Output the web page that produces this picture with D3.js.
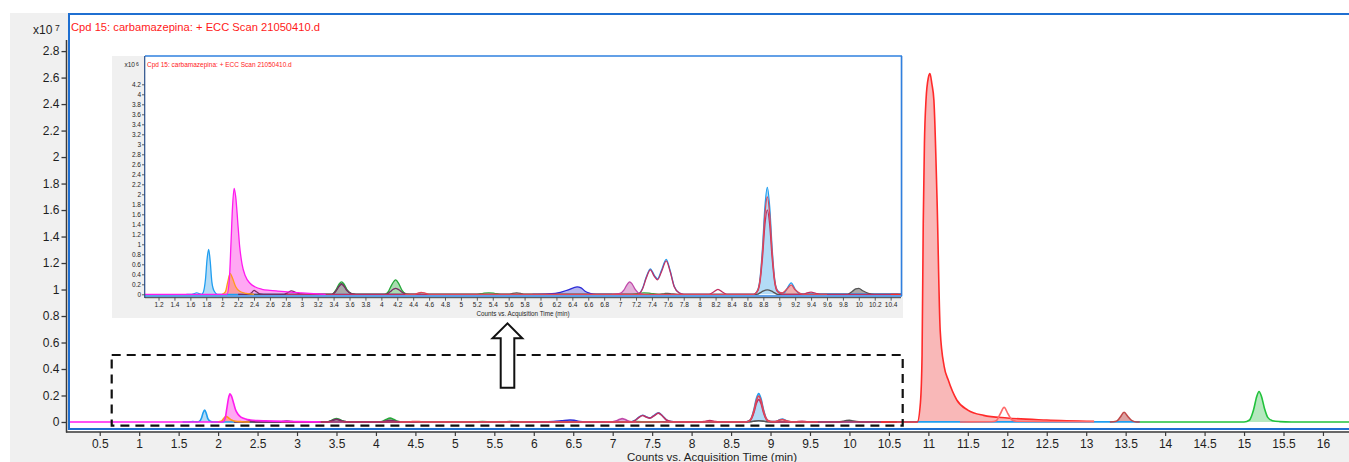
<!DOCTYPE html>
<html>
<head>
<meta charset="utf-8">
<script src="https://cdn.jsdelivr.net/npm/d3@7"></script>
<style>
  html, body { margin: 0; padding: 0; background: #fff; }
  svg { display: block; font-family: "Liberation Sans", Arial, sans-serif; }
</style>
</head>
<body>
<svg id="chart" width="1349" height="462"></svg>
<script>
// ---- Axis ticks ----
const mainXTicks = [0.5, 1, 1.5, 2, 2.5, 3, 3.5, 4, 4.5, 5, 5.5, 6, 6.5, 7, 7.5, 8, 8.5, 9, 9.5, 10, 10.5, 11, 11.5, 12, 12.5, 13, 13.5, 14, 14.5, 15, 15.5, 16];
const mainYTicks = [0, 0.2, 0.4, 0.6, 0.8, 1, 1.2, 1.4, 1.6, 1.8, 2, 2.2, 2.4, 2.6, 2.8];           // x10^7 counts
const insetXTicks = [1.2, 1.4, 1.6, 1.8, 2, 2.2, 2.4, 2.6, 2.8, 3, 3.2, 3.4, 3.6, 3.8, 4, 4.2, 4.4, 4.6, 4.8, 5,
  5.2, 5.4, 5.6, 5.8, 6, 6.2, 6.4, 6.6, 6.8, 7, 7.2, 7.4, 7.6, 7.8, 8, 8.2, 8.4, 8.6, 8.8, 9, 9.2, 9.4, 9.6, 9.8, 10, 10.2, 10.4];
const insetYTicks = [0, 0.2, 0.4, 0.6, 0.8, 1, 1.2, 1.4, 1.6, 1.8, 2, 2.2, 2.4, 2.6, 2.8, 3, 3.2, 3.4, 3.6, 3.8, 4, 4.2]; // x10^6 counts

const titleText = "Cpd 15: carbamazepina: + ECC Scan 21050410.d";
const axisTitle = "Counts vs. Acquisition Time (min)";

// ---- Chromatogram traces: [retention time (min), counts x10^6] ----
const skyTrace = [[1.55,0],[1.62,0],[1.65,0.015],[1.68,0.03],[1.71,0.015],[1.74,0],[1.76,0.03],[1.79,0.3],[1.81,0.7],[1.83,0.9],[1.85,0.65],[1.87,0.25],[1.9,0.06],[1.94,0],
  [7.1,0],[7.22,0],[7.28,0.11],[7.33,0.35],[7.38,0.51],[7.43,0.38],[7.47,0.31],[7.52,0.48],[7.58,0.7],[7.63,0.47],[7.68,0.16],[7.74,0.03],[7.8,0],
  [8.68,0],[8.73,0.09],[8.76,0.34],[8.79,0.94],[8.82,1.75],[8.85,2.14],[8.88,1.75],[8.91,0.94],[8.94,0.34],[8.97,0.1],[9.02,0.03],[9.06,0.03],[9.1,0.12],[9.15,0.23],[9.2,0.1],[9.25,0.02],[9.3,0.01],[13.68,0.01]];
const grayTrace = [[2.3,0],[3.38,0],[3.43,0.07],[3.47,0.18],[3.5,0.22],[3.53,0.18],[3.57,0.08],[3.63,0.01],[3.68,0],[5.6,0],[5.65,0.02],[5.7,0.03],[5.75,0.02],[5.8,0],
  [7.5,0],[7.56,0.015],[7.6,0.02],[7.65,0.01],[7.72,0],[8.72,0],[8.78,0.05],[8.85,0.09],[8.92,0.05],[8.98,0],[9.86,0],[9.92,0.06],[9.96,0.11],[10.0,0.12],[10.05,0.07],[10.12,0.02],[10.2,0],[10.6,0]];
const greenTrace = [[3.2,0],[3.38,0],[3.43,0.09],[3.47,0.21],[3.5,0.25],[3.53,0.21],[3.57,0.09],[3.63,0.01],[3.68,0],[4.04,0],[4.09,0.06],[4.13,0.19],[4.18,0.29],[4.22,0.21],[4.26,0.08],[4.31,0.01],[4.36,0],
  [5.2,0],[5.28,0.02],[5.35,0.03],[5.42,0.02],[5.5,0],[7.15,0],[7.25,0.02],[7.3,0.03],[7.38,0.02],[7.48,0],[7.6,0]];
const navyTrace = [[5.9,0],[6.1,0.01],[6.25,0.04],[6.35,0.09],[6.46,0.15],[6.51,0.13],[6.56,0.06],[6.62,0.02],[6.7,0],[6.9,0]];
const orchidTrace = [[6.9,0],[7.0,0.02],[7.05,0.09],[7.09,0.2],[7.12,0.25],[7.15,0.21],[7.19,0.1],[7.24,0.02],[7.3,0]];
const plumTrace = [[2.2,0],[2.33,0],[2.37,0.03],[2.4,0.08],[2.43,0.05],[2.47,0.01],[2.52,0],[2.78,0],[2.82,0.03],[2.87,0.07],[2.92,0.04],[2.98,0.01],[3.05,0],
  [3.38,0],[3.43,0.07],[3.47,0.16],[3.5,0.2],[3.53,0.16],[3.57,0.07],[3.63,0.01],[3.68,0],[4.06,0],[4.11,0.05],[4.15,0.1],[4.18,0.12],[4.22,0.09],[4.27,0.03],[4.32,0],[4.5,0]];
const orangeTrace = [[2.0,0],[2.04,0.05],[2.07,0.25],[2.1,0.42],[2.13,0.32],[2.17,0.15],[2.22,0.06],[2.3,0.02],[2.4,0]];
const crimsonTrace = [[2.8,0],[7.22,0],[7.28,0.1],[7.33,0.33],[7.38,0.49],[7.43,0.36],[7.47,0.29],[7.52,0.45],[7.58,0.67],[7.63,0.45],[7.68,0.15],[7.74,0.03],[7.8,0],
  [8.12,0],[8.17,0.04],[8.23,0.1],[8.29,0.04],[8.34,0],[8.68,0],[8.73,0.07],[8.76,0.27],[8.79,0.74],[8.82,1.39],[8.85,1.69],[8.88,1.39],[8.91,0.74],[8.94,0.27],[8.97,0.07],[9.02,0.01],[9.06,0],
  [9.3,0],[9.35,0.03],[9.4,0.045],[9.46,0.02],[9.52,0],[10.5,0]];
const roseTrace = [[4.3,0],[4.42,0],[4.46,0.025],[4.5,0.04],[4.55,0.025],[4.6,0],[8.68,0],[8.73,0.08],[8.76,0.31],[8.79,0.86],[8.82,1.6],[8.85,1.95],[8.88,1.6],[8.91,0.86],[8.94,0.31],[8.97,0.09],[9.0,0.04],
  [9.04,0.03],[9.1,0.11],[9.15,0.19],[9.2,0.09],[9.26,0.02],[9.32,0],[9.6,0]];
const magentaTrace = [[0.09,0],[2.06,0],[2.09,0.3],[2.11,1.0],[2.13,1.75],[2.15,2.12],[2.17,1.95],[2.2,1.35],[2.22,0.95],[2.25,0.6],[2.29,0.37],[2.35,0.22],[2.41,0.15],[2.5,0.1],[2.6,0.08],[2.7,0.065],[2.85,0.045],[3.0,0.03],[3.2,0.01],[3.3,0]];
const redTrace = [[10.4,0],[10.86,0],[10.9,1.5],[10.92,5],[10.935,15],[10.95,21],[10.97,24.3],[11.0,26],[11.02,26.3],[11.045,25.5],[11.07,24.3],[11.11,16.8],[11.15,6.9],[11.2,4.2],[11.25,3.2],[11.36,1.66],[11.5,0.9],[11.7,0.5],[12.0,0.3],[12.5,0.15],[13.1,0.05]];
const salmonTrace = [[11.4,0],[11.8,0.02],[11.86,0.1],[11.91,0.6],[11.96,1.1],[12.01,0.6],[12.06,0.15],[12.12,0.06],[12.5,0.04],[13.1,0.02]];
const brickTrace = [[13.3,0],[13.38,0.05],[13.43,0.35],[13.48,0.73],[13.53,0.4],[13.58,0.1],[13.64,0],[13.68,0]];
const limeTrace = [[13.68,0],[15.0,0],[15.07,0.15],[15.12,0.9],[15.16,1.9],[15.19,2.3],[15.22,1.95],[15.26,1.0],[15.3,0.35],[15.36,0.1],[15.45,0.03],[15.6,0],[16.4,0]];

// Integrated (shaded) peaks: [trace, start time, end time]
const integratedPeaks = [["sky",1.74,1.94],["sky",8.68,9.06],["magenta",2.06,3.0],["orange",2.0,2.4],["gray",3.38,3.68],["gray",9.86,10.2],
  ["green",4.04,4.36],["navy",6.1,6.7],["orchid",6.9,7.3],["rose",9.04,9.32],["red",10.86,13.1],["brick",13.3,13.68],["lime",15.0,15.6]];

const traceData = { sky: skyTrace, gray: grayTrace, green: greenTrace, navy: navyTrace, orchid: orchidTrace, plum: plumTrace,
  orange: orangeTrace, crimson: crimsonTrace, rose: roseTrace, magenta: magentaTrace, red: redTrace, salmon: salmonTrace,
  brick: brickTrace, lime: limeTrace };

const styles = {
  sky:     { stroke: "#1f9ef0", fill: "#b3dbf6" },
  gray:    { stroke: "#555555", fill: "#a9a9a9" },
  green:   { stroke: "#26a83a", fill: "#a9ddb0" },
  navy:    { stroke: "#2b2bd6", fill: "#b4b4ee" },
  orchid:  { stroke: "#c04aaa", fill: "#e3b2da" },
  plum:    { stroke: "#7a2c66", fill: "none" },
  orange:  { stroke: "#ff9a1a", fill: "rgba(255,140,90,0.55)" },
  crimson: { stroke: "#c22f62", fill: "none" },
  rose:    { stroke: "#e04858", fill: "#f2b0b0" },
  magenta: { stroke: "#ff1aef", fill: "#ffa8f3" },
  red:     { stroke: "#ff2a2a", fill: "#f9b8b8" },
  salmon:  { stroke: "#ff6a6a", fill: "none" },
  brick:   { stroke: "#c04848", fill: "#dca2a2" },
  lime:    { stroke: "#22c23c", fill: "#b5e8be" }
};
const drawOrder = ["sky","gray","green","navy","orchid","plum","orange","crimson","rose","magenta","red","salmon","brick","lime"];

const frameBlue = "#1f6fd1";
const axisInk = "#3a3a3a";
const textInk = "#1e1e1e";

const svg = d3.select("#chart");
const defs = svg.append("defs");

// ---- Layout ----
const M = { left: 68, right: 1349, top: 14, bottom: 429 };
const I = { left: 145, right: 901, top: 56, bottom: 296 };

const xMain = d3.scaleLinear().domain([0.098, 16.33]).range([M.left, M.right]);
const yMain = d3.scaleLinear().domain([-0.053, 3.08]).range([M.bottom, M.top]);   // x10^7
const xIn = d3.scaleLinear().domain([1.03, 10.53]).range([I.left, I.right]);
const yIn = d3.scaleLinear().domain([-0.034, 4.766]).range([I.bottom, I.top]);    // x10^6

defs.append("clipPath").attr("id", "clipMain").append("rect")
  .attr("x", M.left).attr("y", M.top).attr("width", M.right - M.left).attr("height", M.bottom - M.top);
defs.append("clipPath").attr("id", "clipInset").append("rect")
  .attr("x", I.left).attr("y", I.top).attr("width", I.right - I.left).attr("height", I.bottom - I.top);

function drawTraces(g, xs, ys, k, lw) {
  const line = d3.line().x(d => xs(d[0])).y(d => ys(d[1] * k)).curve(d3.curveMonotoneX);
  const area = d3.area().x(d => xs(d[0])).y0(ys(0)).y1(d => ys(d[1] * k)).curve(d3.curveMonotoneX);
  integratedPeaks.forEach(([name, t0, t1]) => {
    const pts = traceData[name].filter(d => d[0] >= t0 - 1e-9 && d[0] <= t1 + 1e-9);
    g.append("path").attr("d", area(pts)).attr("fill", styles[name].fill).attr("stroke", "none");
  });
  drawOrder.forEach(name => {
    g.append("path").attr("d", line(traceData[name]))
      .attr("fill", "none").attr("stroke", styles[name].stroke)
      .attr("stroke-width", lw).attr("stroke-linejoin", "round");
  });
}

// ---- Background panel ----
svg.append("rect").attr("x", 10).attr("y", 13).attr("width", 1339).attr("height", 449).attr("fill", "#f0f0f0");
svg.append("rect").attr("x", M.left).attr("y", M.top).attr("width", M.right - M.left).attr("height", M.bottom - M.top + 2).attr("fill", "#fff");

// ---- Main chromatogram ----
const gMain = svg.append("g").attr("clip-path", "url(#clipMain)");
drawTraces(gMain, xMain, yMain, 0.1, 1.6);

// Frame
svg.append("line").attr("x1", M.left).attr("x2", M.right).attr("y1", M.top).attr("y2", M.top).attr("stroke", frameBlue).attr("stroke-width", 2);
svg.append("line").attr("x1", M.left + 1).attr("x2", M.left + 1).attr("y1", M.top).attr("y2", M.bottom + 1).attr("stroke", frameBlue).attr("stroke-width", 2);
svg.append("line").attr("x1", M.left).attr("x2", M.right).attr("y1", M.bottom).attr("y2", M.bottom).attr("stroke", frameBlue).attr("stroke-width", 2.2);

// Axes
const mainYAxis = svg.append("g").attr("transform", "translate(66.5,0)")
  .call(d3.axisLeft(yMain).tickValues(mainYTicks).tickFormat(d => String(d)).tickSize(5).tickPadding(2).tickSizeOuter(0));
mainYAxis.select(".domain").remove();
mainYAxis.selectAll("line").attr("stroke", axisInk).attr("stroke-width", 1.3);
mainYAxis.selectAll("text").attr("fill", textInk).style("font-size", "12px");
svg.append("line").attr("x1", 66.5).attr("x2", 66.5).attr("y1", 40).attr("y2", 432.5).attr("stroke", axisInk).attr("stroke-width", 1.5);

const mainXAxis = svg.append("g").attr("transform", "translate(0,432)")
  .call(d3.axisBottom(xMain).tickValues(mainXTicks).tickFormat(d => String(d)).tickSize(4).tickPadding(3).tickSizeOuter(0));
mainXAxis.select(".domain").remove();
mainXAxis.selectAll("line").attr("stroke", axisInk).attr("stroke-width", 1.2);
mainXAxis.selectAll("text").attr("fill", textInk).style("font-size", "12px");
svg.append("line").attr("x1", 66).attr("x2", M.right).attr("y1", 432).attr("y2", 432).attr("stroke", axisInk).attr("stroke-width", 1.5);

svg.append("text").attr("x", 712).attr("y", 461).attr("text-anchor", "middle")
  .attr("fill", textInk).style("font-size", "11.5px").text(axisTitle);

// Title and multiplier
svg.append("text").attr("x", 71).attr("y", 31).attr("fill", "#ff1a1a").style("font-size", "11.2px").text(titleText);
const mult = svg.append("text").attr("x", 33).attr("y", 33.5).attr("fill", textInk).style("font-size", "12px");
mult.append("tspan").text("x10");
mult.append("tspan").attr("x", 55).attr("y", 31).style("font-size", "8.5px").text("7");

// ---- Inset (zoom of 1–10.5 min) ----
svg.append("rect").attr("x", 112).attr("y", 56).attr("width", 791).attr("height", 262).attr("fill", "#f0f0f0");
svg.append("rect").attr("x", I.left).attr("y", I.top).attr("width", I.right - I.left).attr("height", I.bottom - I.top).attr("fill", "#fff");

const gIn = svg.append("g").attr("clip-path", "url(#clipInset)");
drawTraces(gIn, xIn, yIn, 1, 1.3);

const insetBlue = "#2f80df";
svg.append("line").attr("x1", I.left).attr("x2", I.right + 1).attr("y1", I.top).attr("y2", I.top).attr("stroke", insetBlue).attr("stroke-width", 1.5);
svg.append("line").attr("x1", I.right + 0.5).attr("x2", I.right + 0.5).attr("y1", I.top).attr("y2", I.bottom).attr("stroke", insetBlue).attr("stroke-width", 1.6);
svg.append("line").attr("x1", I.left).attr("x2", I.right + 1).attr("y1", I.bottom).attr("y2", I.bottom).attr("stroke", insetBlue).attr("stroke-width", 1.3);

const inYAxis = svg.append("g").attr("transform", `translate(${I.left},0)`)
  .call(d3.axisLeft(yIn).tickValues(insetYTicks).tickFormat(d => String(d)).tickSize(3).tickPadding(1).tickSizeOuter(0));
inYAxis.select(".domain").remove();
inYAxis.selectAll("line").attr("stroke", axisInk).attr("stroke-width", 0.8);
inYAxis.selectAll("text").attr("fill", textInk).style("font-size", "6.5px");
svg.append("line").attr("x1", I.left - 0.3).attr("x2", I.left - 0.3).attr("y1", 56).attr("y2", 298).attr("stroke", "#2a4f8a").attr("stroke-width", 1.2);

const inXAxis = svg.append("g").attr("transform", "translate(0,297.7)")
  .call(d3.axisBottom(xIn).tickValues(insetXTicks).tickFormat(d => String(d)).tickSize(3).tickPadding(2).tickSizeOuter(0));
inXAxis.select(".domain").remove();
inXAxis.selectAll("line").attr("stroke", axisInk).attr("stroke-width", 0.8);
inXAxis.selectAll("text").attr("fill", textInk).style("font-size", "6.5px");
svg.append("line").attr("x1", I.left).attr("x2", I.right).attr("y1", 297.7).attr("y2", 297.7).attr("stroke", axisInk).attr("stroke-width", 1);

svg.append("text").attr("x", 523).attr("y", 315.5).attr("text-anchor", "middle")
  .attr("fill", textInk).style("font-size", "6.3px").text(axisTitle);
svg.append("text").attr("x", 147).attr("y", 67).attr("fill", "#ff1a1a").style("font-size", "6.5px").text(titleText);
const multIn = svg.append("text").attr("x", 124.5).attr("y", 67).attr("fill", textInk).style("font-size", "6.5px");
multIn.append("tspan").text("x10");
multIn.append("tspan").attr("x", 136).attr("y", 65.5).style("font-size", "5px").text("6");

// ---- Zoom region marker and arrow ----
svg.append("rect").attr("x", 111.7).attr("y", 355).attr("width", 791).attr("height", 70.7)
  .attr("fill", "none").attr("stroke", "#111").attr("stroke-width", 2.2).attr("stroke-dasharray", "9,6");

const arrowPts = [[500.7,387.7],[514.3,387.7],[514.3,338.3],[522.3,338.3],[507.5,323.3],[492.5,338.3],[500.7,338.3]];
svg.append("polygon").attr("points", arrowPts.map(p => p.join(",")).join(" "))
  .attr("fill", "#fff").attr("stroke", "#111").attr("stroke-width", 2).attr("stroke-linejoin", "miter");
</script>
</body>
</html>
